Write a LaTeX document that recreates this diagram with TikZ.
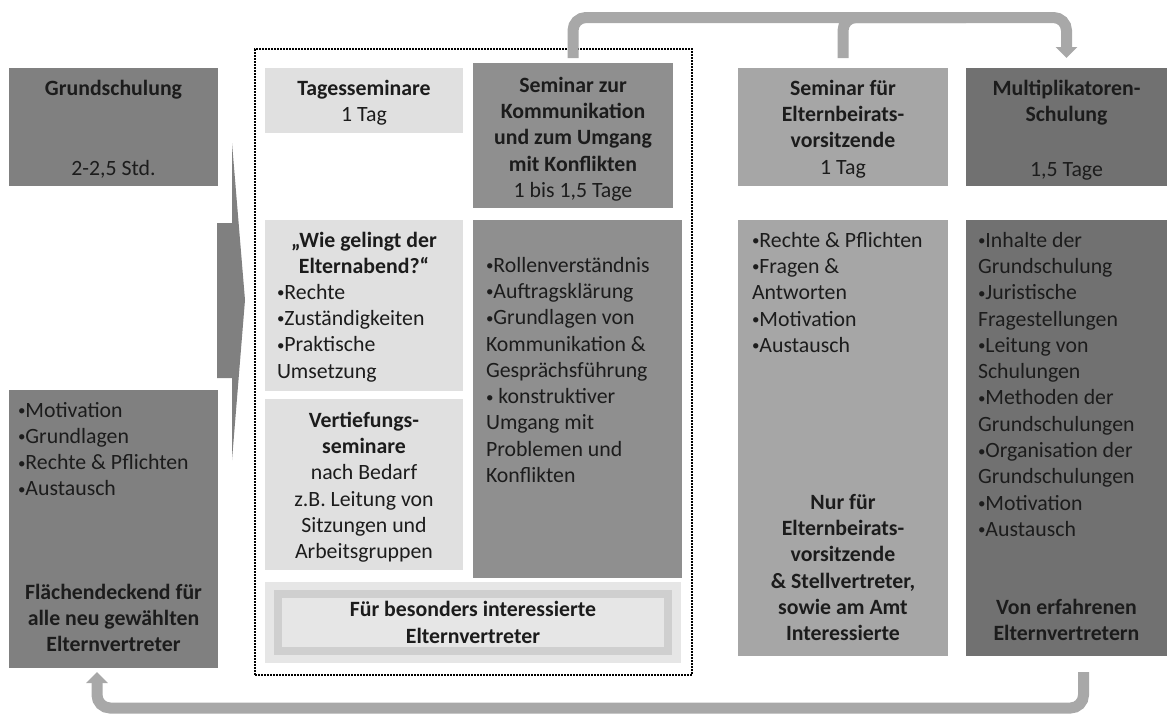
\documentclass[tikz,border=0pt]{standalone}
\usepackage{fontspec}
\setmainfont{Carlito}
\usetikzlibrary{arrows.meta,positioning}
\definecolor{grundgray}{HTML}{808080}
\definecolor{lightgray}{HTML}{E0E0E0}
\definecolor{midgray}{HTML}{8F8F8F}
\definecolor{paleblock}{HTML}{A6A6A6}
\definecolor{darkblock}{HTML}{717171}
\definecolor{ringgray}{HTML}{CFCFCF}
\definecolor{fuergray}{HTML}{E6E6E6}
\definecolor{flowgray}{HTML}{A8A8A8}
\definecolor{inkgray}{HTML}{1C1C1C}
\tikzset{%
      block/.style={inner sep=0pt, outer sep=0pt, draw=none},
      txt/.style={font=\fontsize{21.8}{26.3}\selectfont, inner sep=0pt, outer sep=0pt, text=inkgray},
      ctr/.style={txt, align=center},
      lft/.style={txt, align=left},
      hd/.style={ctr, font=\fontsize{21.8}{26.3}\selectfont\bfseries},
      flow/.style={draw=flowgray, line width=11pt, rounded corners=13pt, -{Triangle[width=21pt,length=11pt]}},
      flowline/.style={draw=flowgray, line width=11pt, rounded corners=13pt},
      group frame/.style={draw=black, line width=1.1pt, dash pattern=on 2pt off 1pt, inner sep=0pt},
    }
\newcommand{\blk}[6]{\node (#1) [block, #2, minimum width=#5pt, minimum height=#6pt, anchor=north west] at (#3,#4) {};}
\newcommand{\bu}{\raisebox{1.5pt}{\fontsize{15}{15}\selectfont •}}

\begin{document}
\begin{tikzpicture}[x=1pt,y=-1pt]
      \useasboundingbox (0,0) rectangle (1167,715);

      % Draw blocks
      \blk{grund}{fill=grundgray}{9}{68}{209}{118}
      \blk{grundlow}{fill=grundgray}{9}{390}{209}{278}
      \blk{tages}{fill=lightgray}{265}{68}{198}{65}
      \blk{komm}{fill=midgray}{473}{63}{200}{145}
      \blk{wie}{fill=lightgray}{265}{220}{198}{171}
      \blk{vert}{fill=lightgray}{265}{399}{198}{171}
      \blk{rollen}{fill=midgray}{473}{220}{209}{358}
      \blk{fuer}{fill=fuergray}{265}{582}{416}{81}
      \blk{elt}{fill=paleblock}{738}{68}{210}{118}
      \blk{eltlow}{fill=paleblock}{738}{220}{210}{436}
      \blk{multi}{fill=darkblock}{966}{68}{201}{118}
      \blk{multilow}{fill=darkblock}{966}{220}{201}{436}
      \blk{grp}{group frame}{255}{49}{437}{626}
      \node (fuerin) [block, draw=ringgray, line width=8pt, fill=fuergray, minimum width=390pt, minimum height=57pt] at (fuer.center) {};

      % Texts
      \node (grund-t) [ctr, below=12pt of grund.north] {\textbf{Grundschulung}\\[53.7pt]2-2,5 Std.};
      \node (grundlow-l) [lft, below right=12pt and 9pt of grundlow.north west] {\bu Motivation\\\bu Grundlagen\\\bu Rechte \& Pflichten\\\bu Austausch};
      \node (grundlow-b) [hd, above=16pt of grundlow.south] {Flächendeckend für\\alle neu gewählten\\Elternvertreter};
      \node (tages-t) [ctr, below=12pt of tages.north] {\textbf{Tagesseminare}\\1 Tag};
      \node (komm-t) [ctr, below=14pt of komm.north] {\textbf{Seminar zur}\\\textbf{Kommunikation}\\\textbf{und zum Umgang}\\\textbf{mit Konflikten}\\1 bis 1,5 Tage};
      \node (wie-b) [hd, below=12pt of wie.north] {„Wie gelingt der\\Elternabend?“};
      \node (wie-l) [lft, below right=64pt and 12pt of wie.north west] {\bu Rechte\\\bu Zuständigkeiten\\\bu Praktische\\Umsetzung};
      \node (vert-t) [ctr, below=13pt of vert.north] {\textbf{Vertiefungs-}\\\textbf{seminare}\\nach Bedarf\\z.B. Leitung von\\Sitzungen und\\Arbeitsgruppen};
      \node (rollen-l) [lft, below right=37pt and 13pt of rollen.north west] {\bu Rollenverständnis\\\bu Auftragsklärung\\\bu Grundlagen von\\Kommunikation \&\\Gesprächsführung\\\bu{} konstruktiver\\Umgang mit\\Problemen und\\Konflikten};
      \node (fuer-t) [hd] at (fuerin.center) {Für besonders interessierte\\Elternvertreter};
      \node (elt-t) [ctr, below=12pt of elt.north] {\textbf{Seminar für}\\\textbf{Elternbeirats-}\\\textbf{vorsitzende}\\1 Tag};
      \node (eltlow-l) [lft, below right=12pt and 14pt of eltlow.north west] {\bu Rechte \& Pflichten\\\bu Fragen \&\\Antworten\\\bu Motivation\\\bu Austausch};
      \node (eltlow-b) [hd, above=15pt of eltlow.south] {Nur für\\Elternbeirats-\\vorsitzende\\\& Stellvertreter,\\sowie am Amt\\Interessierte};
      \node (multi-t) [ctr, below=12pt of multi.north] {\textbf{Multiplikatoren-}\\\textbf{Schulung}\\[28.7pt]1,5 Tage};
      \node (multilow-l) [lft, below right=12pt and 12pt of multilow.north west] {\bu Inhalte der\\Grundschulung\\\bu Juristische\\Fragestellungen\\\bu Leitung von\\Schulungen\\\bu Methoden der\\Grundschulungen\\\bu Organisation der\\Grundschulungen\\\bu Motivation\\\bu Austausch};
      \node (multilow-b) [hd, above=15pt of multilow.south] {Von erfahrenen\\Elternvertretern};

      % Big arrow into the group
      \fill[grundgray] (217,223) -- (232,223) -- (232,143) -- (245,300) -- (232,460) -- (232,378) -- (217,378) -- cycle;

      % Draw flows
      \coordinate (topline) at (0,17.5);
      \coordinate (botline) at (0,708);
      \coordinate (mstart) at ([xshift=17pt]multilow.south);
      \coordinate (gend) at ([xshift=-16.5pt]grundlow.south);
      \path [flow, shorten <=5pt, shorten >=10pt] (komm.north) -- (komm.north |- topline) -| (multi.north);
      \path [flowline, shorten <=10pt] (elt.north) |- (multi.west |- topline);
      \path [flow, shorten <=16pt, shorten >=4pt] (mstart) -- (mstart |- botline) -| (gend);

\end{tikzpicture}
\end{document}
